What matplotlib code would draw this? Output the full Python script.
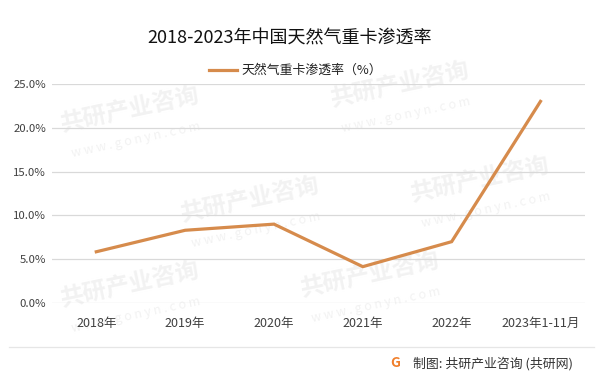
#!/usr/bin/env python3

import matplotlib

matplotlib.use("Agg")
import matplotlib.pyplot as plt
from matplotlib.lines import Line2D
from matplotlib.ticker import FuncFormatter

plt.rcParams["font.family"] = ["Noto Sans CJK SC", "DejaVu Sans"]

years = ["2018年", "2019年", "2020年", "2021年", "2022年", "2023年1-11月"]
share = [5.85, 8.3, 9.0, 4.15, 7.0, 23.0]
y_ticks = [0, 5, 10, 15, 20, 25]

title = "2018-2023年中国天然气重卡渗透率"
series_name = "天然气重卡渗透率（%）"
source = "制图: 共研产业咨询 (共研网)"

line_color = "#D68B4C"
grid_color = "#D9D9D9"
text_color = "#404040"
mark_color = "#F2F2F2"

# watermark centres in pixels from top-left
mark_spots = [(130, 110), (400, 85), (250, 200), (480, 180), (130, 285), (370, 275)]


def main() -> int:
    fig = plt.figure(figsize=(6.03, 3.76), dpi=100)
    W, H = 603, 376

    for px, py in mark_spots:
        fig.text(px / W, 1 - py / H, "共研产业咨询", ha="center", va="center",
                 fontsize=17, fontweight="bold", color=mark_color, rotation=12,
                 zorder=-5)
        fig.text((px + 6) / W, 1 - (py + 30) / H, "w w w . g o n y n . c o m",
                 ha="center", va="center", fontsize=9, color=mark_color,
                 rotation=12, zorder=-5)

    ax = fig.add_axes([0.086, 0.194, 0.884, 0.583])
    ax.patch.set_alpha(0)
    x = range(len(years))
    ax.plot(x, share, color=line_color, linewidth=2.3, solid_joinstyle="miter")

    ax.set_xlim(-0.5, len(years) - 0.5)
    ax.set_ylim(0, 25)
    ax.set_yticks(y_ticks)
    ax.yaxis.set_major_formatter(FuncFormatter(lambda v, _: f"{v:.1f}%"))
    ax.set_xticks(list(x))
    ax.set_xticklabels(years)
    ax.tick_params(axis="both", length=0, colors=text_color)
    ax.tick_params(axis="x", labelsize=9, pad=10)
    ax.tick_params(axis="y", labelsize=8.2, pad=4)
    ax.grid(axis="y", color=grid_color, linewidth=0.9)
    ax.set_axisbelow(True)
    for side in ax.spines.values():
        side.set_visible(False)

    fig.text(0.48, 0.898, title, ha="center", va="center", fontsize=13, color="#111111")

    handle = Line2D([], [], color=line_color, linewidth=2.3)
    fig.legend([handle], [series_name], loc="center", bbox_to_anchor=(0.49, 0.812),
               frameon=False, fontsize=9.3, handlelength=2.2, handletextpad=0.3,
               labelcolor="#222222")

    # footer rule and source note
    fig.add_artist(Line2D([0.015, 0.985], [0.078, 0.078], transform=fig.transFigure,
                          color="#E6E6E6", linewidth=0.9))
    fig.text(0.655, 0.034, "G", ha="center", va="center", fontsize=10,
             fontweight="bold", color="#F07F2C")
    fig.text(0.685, 0.034, source, ha="left", va="center", fontsize=9.3, color="#333333")

    fig.savefig("out.png", dpi=100)
    plt.close(fig)
    return 0


if __name__ == "__main__":
    raise SystemExit(main())
